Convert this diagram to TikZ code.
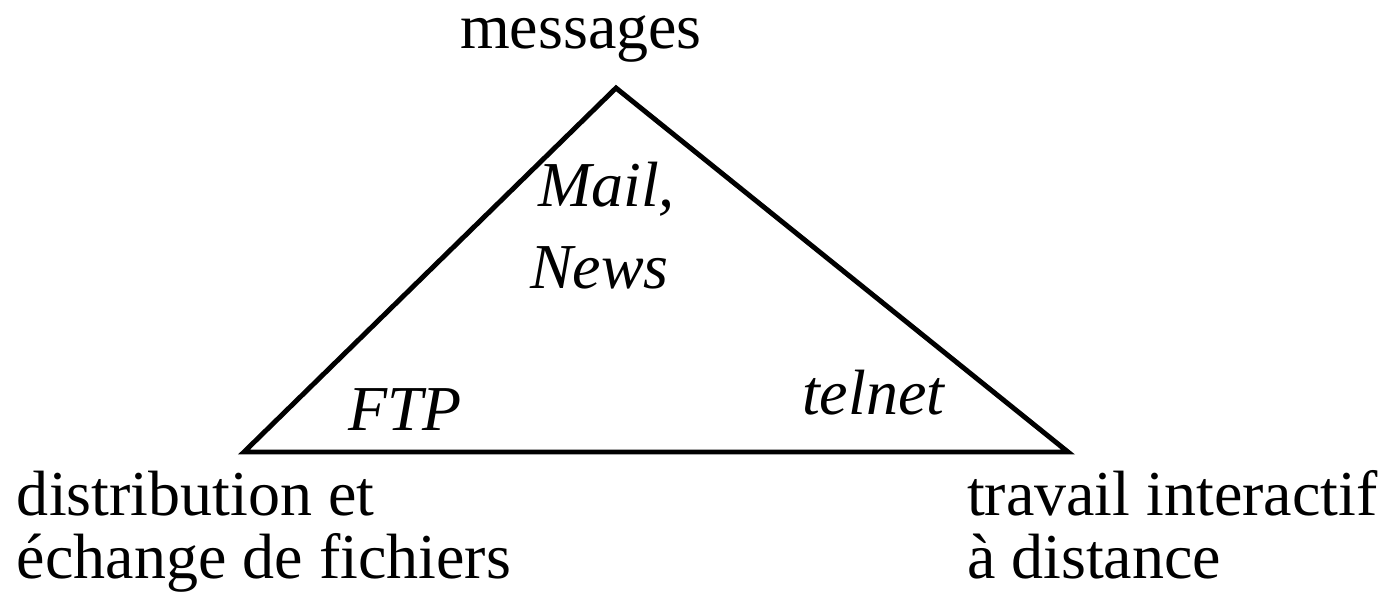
\documentclass[tikz,border=0pt]{standalone}
\usepackage{fontspec}
\setmainfont{Liberation Serif}
\begin{document}
\begin{tikzpicture}[x=0.01cm,y=-0.01cm,
  lbl/.style={anchor=base west,inner sep=0pt,outer sep=0pt,font=\fontsize{18.2}{20}\selectfont},
  ilbl/.style={lbl,font=\fontsize{18.2}{20}\selectfont\itshape},
  edge/.style={line width=1.4pt,line join=miter}]
\useasboundingbox (0,0) rectangle (1386,594);
\coordinate (top) at (616,88);
\coordinate (bl) at (244,452);
\coordinate (br) at (1068,452);
\draw[edge] (top) -- (bl) -- (br) -- cycle;
\node[lbl] (msg) at (460,48) {messages};
\node[ilbl] (mail) at (538,206) {Mail,};
\node[ilbl] (news) at (530,288) {News};
\node[ilbl] (ftp) at (348,430) {FTP};
\node[ilbl] (telnet) at (802,414) {telnet};
\node[lbl] (d1) at (17,515) {distribution et};
\node[lbl] (d2) at (17,578) {échange de fichiers};
\node[lbl] (t1) at (967,515) {travail interactif};
\node[lbl] (t2) at (967,578) {à distance};
\end{tikzpicture}
\end{document}
